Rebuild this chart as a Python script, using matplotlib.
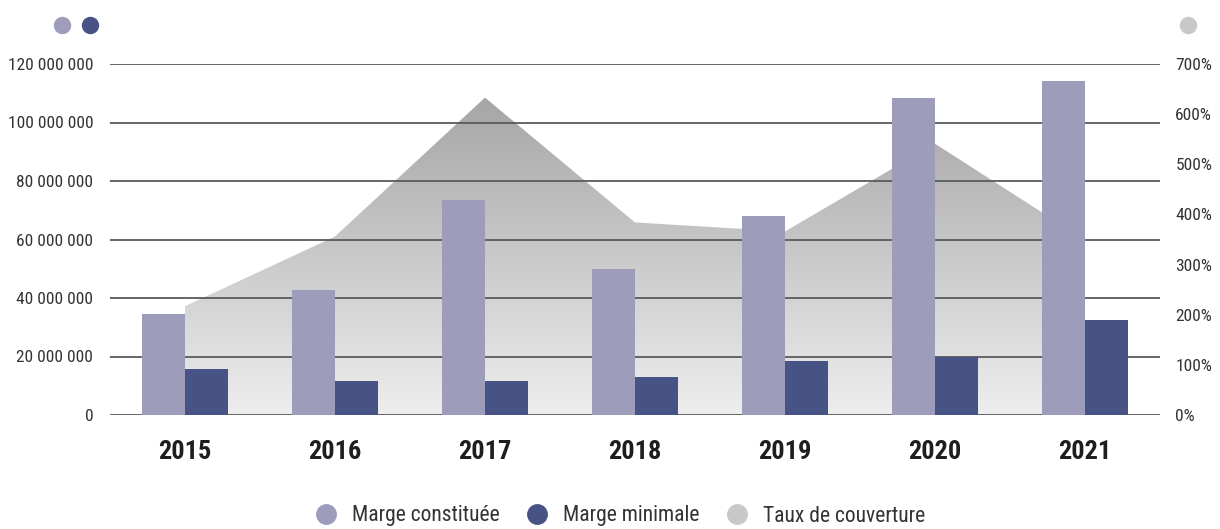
import matplotlib
matplotlib.use("Agg")
import matplotlib.pyplot as plt
import numpy as np
from matplotlib.lines import Line2D
from matplotlib.colors import LinearSegmentedColormap
from matplotlib.ticker import FuncFormatter
from matplotlib import font_manager

years = ["2015", "2016", "2017", "2018", "2019", "2020", "2021"]
marge_constituee = [34.5e6, 42.7e6, 73.5e6, 50.0e6, 68.2e6, 108.4e6, 114.2e6]
marge_minimale = [15.7e6, 11.6e6, 11.6e6, 13.0e6, 18.5e6, 19.9e6, 32.6e6]
taux_couverture = [217, 356, 633, 384, 366, 541, 349]

c_light = "#9d9dbb"
c_dark = "#485385"
c_gray = "#c8c8c8"
c_text = "#333333"

names = {f.name for f in font_manager.fontManager.ttflist}
cond = "Roboto Condensed" if "Roboto Condensed" in names else "Roboto"
plt.rcParams["font.family"] = [cond, "DejaVu Sans"]

fig = plt.figure(figsize=(12.2, 5.29), dpi=100)
ax = fig.add_axes([110 / 1220, 114 / 529, 1050 / 1220, 351 / 529])
ax2 = ax.twinx()
# bars/grid on top, coverage area underneath
ax.set_zorder(ax2.get_zorder() + 1)
ax.patch.set_visible(False)

x = np.arange(len(years))
w = 0.287

# coverage area with vertical grey gradient (dark at top)
poly = ax2.fill_between(x, 0, taux_couverture, color="none", lw=0)
grad = np.linspace(1, 0, 256).reshape(-1, 1)
cmap = LinearSegmentedColormap.from_list("g", ["#eeeeee", "#9f9d9d"])
img = ax2.imshow(grad, extent=[-0.5, 6.5, 0, 700], aspect="auto",
                 cmap=cmap, origin="upper", zorder=1)
img.set_clip_path(poly.get_paths()[0], transform=ax2.transData)

ax.bar(x - w / 2, marge_constituee, w, color=c_light, zorder=3)
ax.bar(x + w / 2, marge_minimale, w, color=c_dark, zorder=3)

ax.set_xlim(-0.5, 6.5)
ax.set_ylim(0, 120e6)
ax2.set_ylim(0, 700)
ax.set_yticks(np.arange(0, 120e6 + 1, 20e6))
ax2.set_yticks(np.arange(0, 701, 100))
ax.yaxis.set_major_formatter(FuncFormatter(lambda v, p: f"{int(v):,}".replace(",", " ")))
ax2.yaxis.set_major_formatter(FuncFormatter(lambda v, p: f"{int(v)}%"))
ax.grid(axis="y", color="#5a5a5a", lw=1.3, zorder=2)
ax.set_axisbelow(False)
for a in (ax, ax2):
    for s in a.spines.values():
        s.set_visible(False)
ax.tick_params(axis="y", length=0, pad=12, labelsize=12.5, labelcolor=c_text)
ax2.tick_params(axis="y", length=0, pad=11, labelsize=12.5, labelcolor=c_text)
ax.set_xticks(x)
ax.set_xticklabels(years, fontsize=19, fontweight="bold", color="#1e1e1e")
ax.tick_params(axis="x", length=0, pad=18)

# series dots above the axes
for fx, col in [(62, c_light), (90, c_dark), (1188, c_gray)]:
    fig.add_artist(Line2D([fx / 1220], [1 - 25 / 529], marker="o", markersize=11.5,
                          color=col, transform=fig.transFigure))

handles = [Line2D([], [], marker="o", ls="", markersize=14, color=c)
           for c in (c_light, c_dark, c_gray)]
fig.legend(handles, ["Marge constituée", "Marge minimale", "Taux de couverture"],
           loc="center", bbox_to_anchor=(615 / 1220, 1 - 516 / 529), ncol=3,
           frameon=False, fontsize=15.5, handletextpad=0.2, columnspacing=0.75,
           labelcolor=c_text)

fig.savefig("out.png", dpi=100)
